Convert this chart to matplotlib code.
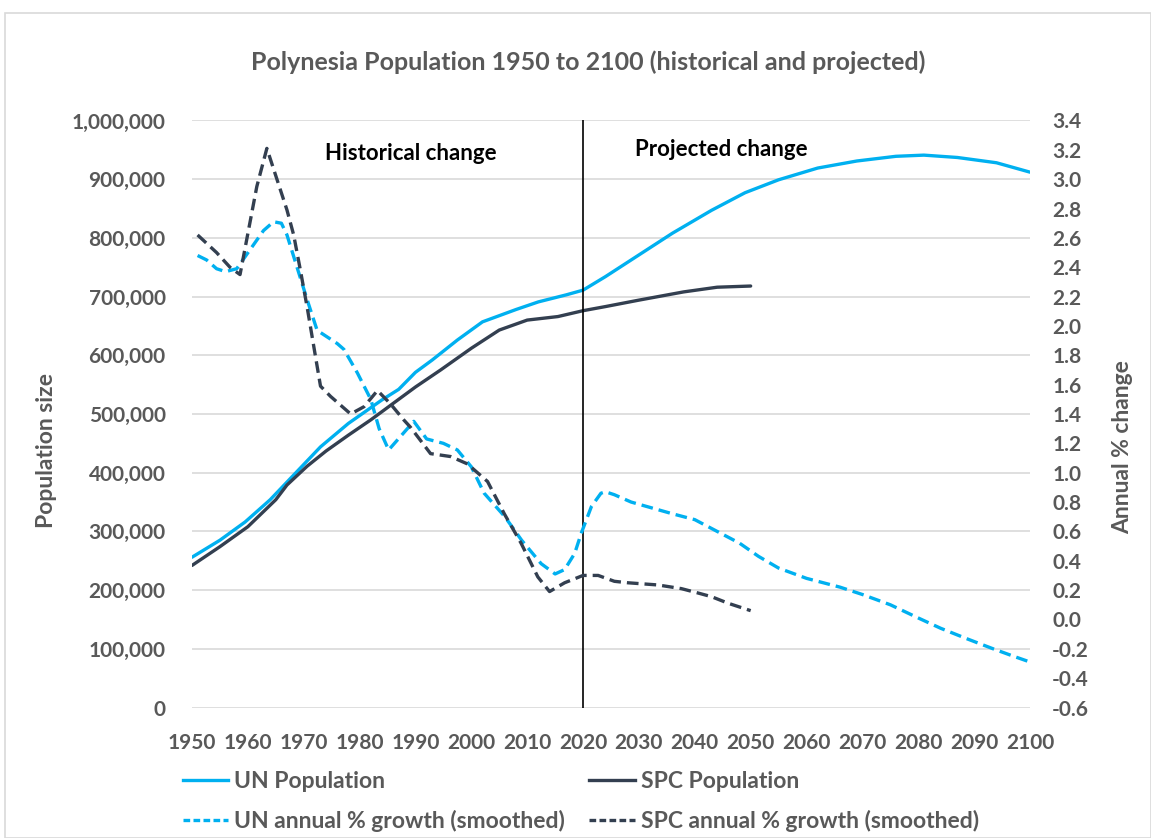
import matplotlib
matplotlib.use("Agg")
import matplotlib.pyplot as plt
from matplotlib.lines import Line2D
from matplotlib.patches import Rectangle
from matplotlib.ticker import FuncFormatter

plt.rcParams['font.family'] = ['Lato', 'DejaVu Sans']

# ---------------- data ----------------
un_pop_years = [1950, 1955, 1959.5, 1964, 1968.5, 1973, 1978, 1984, 1987, 1990, 1993, 1997.5,
                2002, 2008, 2012, 2017, 2020, 2024, 2030, 2036, 2043, 2049, 2055, 2062,
                2069, 2076, 2081, 2087, 2094, 2100]
un_pop = [256000, 285000, 316000, 354000, 399000, 444000, 484000, 524000, 542000, 571000,
          592000, 626000, 657000, 678000, 691000, 703000, 711000, 734000, 771000, 808000,
          847000, 877000, 899000, 919000, 931000, 939000, 941000, 937000, 928000, 912000]

spc_pop_years = [1950, 1955, 1960, 1965, 1967, 1970.6, 1974, 1978, 1982, 1986, 1990,
                 1994.5, 2000, 2005, 2010, 2015.5, 2020, 2024, 2030, 2038, 2044, 2050]
spc_pop = [242000, 274000, 308000, 354000, 379000, 411000, 437000, 464000, 490000,
           518000, 546000, 575000, 612000, 643000, 660000, 666000, 676000, 683000, 694000,
           708000, 716000, 718000]

un_gr_years = [1951, 1952.6, 1954.4, 1956, 1958, 1960.4, 1962.8, 1964.6, 1966, 1967, 1968.8,
               1970.6, 1972.4, 1976, 1977.2, 1979.6, 1982, 1983.5, 1985.2, 1989.7, 1992,
               1995, 1997.5, 2000, 2002.3, 2006, 2009, 2012.5, 2015, 2016.7, 2018.5, 2019.7,
               2021.5, 2023.2, 2024, 2025.6, 2028.6, 2036, 2040, 2043, 2048, 2051.4, 2055,
               2060, 2066, 2070, 2075, 2080, 2084, 2088.6, 2093.4, 2097, 2100]
un_gr = [2.48, 2.45, 2.39, 2.37, 2.39, 2.52, 2.65, 2.71, 2.70, 2.62, 2.40,
         2.18, 1.97, 1.88, 1.84, 1.68, 1.50, 1.30, 1.155, 1.35, 1.23,
         1.20, 1.155, 1.04, 0.86, 0.70, 0.54, 0.38, 0.31, 0.34, 0.45, 0.59,
         0.77, 0.86, 0.87, 0.85, 0.80, 0.72, 0.68, 0.62, 0.52, 0.43, 0.35,
         0.28, 0.22, 0.17, 0.10, 0.01, -0.06, -0.13, -0.20, -0.25, -0.29]

spc_gr_years = [1951, 1954.4, 1956.8, 1958.6, 1959.8, 1961.6, 1963.4, 1965.2, 1967, 1968.2,
                1969.4, 1970.6, 1971.8, 1973, 1974.8, 1978.4, 1980.8, 1983.2, 1985.5, 1987.9,
                1989.1, 1992.7, 1996.3, 1999.3, 2002.9, 2005.9, 2008.9, 2011.9, 2014, 2016.7,
                2020, 2022.7, 2025.6, 2028, 2033.4, 2037.6, 2040.6, 2043, 2046, 2050]
spc_gr = [2.62, 2.50, 2.40, 2.35, 2.59, 2.95, 3.21, 3.00, 2.79, 2.62,
          2.38, 2.13, 1.86, 1.59, 1.52, 1.40, 1.45, 1.56, 1.47, 1.36,
          1.31, 1.13, 1.11, 1.06, 0.94, 0.72, 0.52, 0.29, 0.19, 0.25,
          0.30, 0.30, 0.26, 0.25, 0.235, 0.21, 0.18, 0.155, 0.11, 0.06]

x_ticks = list(range(1950, 2101, 10))
left_ticks = list(range(0, 1000001, 100000))
right_ticks = [round(-0.6 + 0.2 * i, 1) for i in range(21)]

title = "Polynesia Population 1950 to 2100 (historical and projected)"
legend_labels = ["UN Population", "SPC Population",
                 "UN annual % growth (smoothed)", "SPC annual % growth (smoothed)"]

# ---------------- style ----------------
UN_C = "#00B0F0"
SPC_C = "#333F50"
GRAY = "#595959"
GRID = "#D9D9D9"
LW = 2.4
DASH = (0, (3.5, 1.8))
TICK_FS = 15

fig = plt.figure(figsize=(11.51, 8.38), dpi=100)
fig.patches.append(Rectangle((5 / 1151, 0), 1 - 5 / 1151, 1 - 13 / 838, transform=fig.transFigure,
                             fill=False, edgecolor="#D9D9D9", linewidth=1.2))

ax = fig.add_axes([192 / 1151, 1 - 707.5 / 838, (1030 - 192) / 1151, (707.5 - 120.5) / 838])
ax2 = ax.twinx()

ax.plot(un_pop_years, un_pop, color=UN_C, lw=LW, solid_capstyle='round', zorder=3)
ax.plot(spc_pop_years, spc_pop, color=SPC_C, lw=LW, solid_capstyle='round', zorder=3)
ax2.plot(un_gr_years, un_gr, color=UN_C, lw=LW, linestyle=DASH, zorder=3)
ax2.plot(spc_gr_years, spc_gr, color=SPC_C, lw=LW, linestyle=DASH, zorder=3)

ax.set_xlim(1950, 2100)
ax.set_ylim(0, 1000000)
ax2.set_ylim(-0.6, 3.4)
ax.set_xticks(x_ticks)
ax.set_yticks(left_ticks)
ax2.set_yticks(right_ticks)
ax.yaxis.set_major_formatter(FuncFormatter(lambda v, p: f"{int(v):,}"))
ax2.yaxis.set_major_formatter(FuncFormatter(lambda v, p: f"{v:.1f}"))

ax.grid(axis='y', color=GRID, lw=1.2, zorder=0)
ax.set_axisbelow(True)
for a in (ax, ax2):
    for s in a.spines.values():
        s.set_visible(False)
    a.tick_params(length=0, labelsize=TICK_FS, labelcolor=GRAY)
    for lab in a.get_xticklabels() + a.get_yticklabels():
        lab.set_fontweight('bold')
ax.tick_params(axis='y', pad=19)
ax.tick_params(axis='x', pad=18)
ax2.tick_params(axis='y', pad=16)
ax2.tick_params(axis='x', length=0)

ax.axvline(2020, color="black", lw=1.2, zorder=4)

ax.text(1973.8, 932000, "Historical change", fontsize=16, fontweight='bold', color='black')
ax.text(2029.3, 940000, "Projected change", fontsize=16, fontweight='bold', color='black')

fig.text(588 / 1151, 1 - 62 / 838, title, ha='center', va='center', fontsize=18,
         fontweight='bold', color=GRAY)
fig.text(47 / 1151, 1 - 450 / 838, "Population size", rotation=90, ha='center', va='center',
         fontsize=16.5, fontweight='bold', color=GRAY)
fig.text(1123 / 1151, 1 - 447 / 838, "Annual % change", rotation=90, ha='center', va='center',
         fontsize=16.5, fontweight='bold', color=GRAY)

h_un = Line2D([], [], color=UN_C, lw=LW)
h_spc = Line2D([], [], color=SPC_C, lw=LW)
h_ung = Line2D([], [], color=UN_C, lw=LW, linestyle=(0, (2, 1)))
h_spcg = Line2D([], [], color=SPC_C, lw=LW, linestyle=(0, (2, 1)))
# column-first ordering so that rows read: UN pop | SPC pop ; UN growth | SPC growth
handles = [h_un, h_ung, h_spc, h_spcg]
labels = [legend_labels[0], legend_labels[2], legend_labels[1], legend_labels[3]]
leg = fig.legend(handles, labels, ncol=2, loc='upper left',
                 bbox_to_anchor=(162 / 1151, 1 - 750 / 838), frameon=False,
                 fontsize=16.5, handlelength=2.0, handletextpad=0.25, columnspacing=1.05,
                 labelspacing=0.78)
for t in leg.get_texts():
    t.set_color(GRAY)
    t.set_fontweight('bold')

fig.savefig("out.png", dpi=100)
